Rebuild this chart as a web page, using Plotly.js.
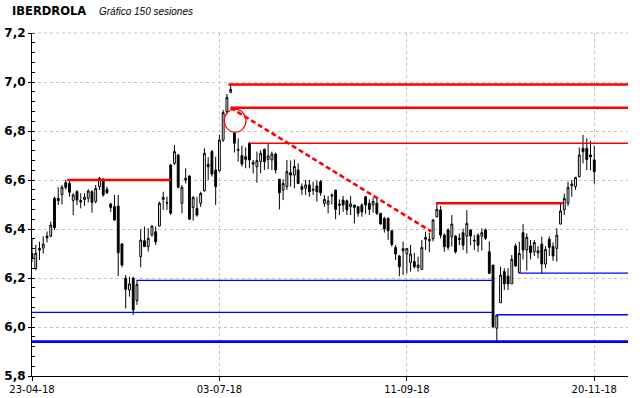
<!DOCTYPE html>
<html>
<head>
<meta charset="utf-8">
<script src="https://cdn.plot.ly/plotly-3.0.1.min.js"></script>
<style>
html,body{margin:0;padding:0;background:#fff;}
#chart{width:640px;height:398px;}
</style>
</head>
<body>
<div id="chart"></div>
<script>
// ---- data: 151 daily sessions (IBERDROLA) ----
const openP = [
6.30,6.239,6.321,6.322,6.371,6.371,6.525,6.525,6.541,6.589,
6.586,6.516,6.552,6.516,6.52,6.525,6.552,6.512,6.573,6.603,
6.562,6.502,6.491,6.494,6.339,6.199,6.151,6.199,6.108,6.287,
6.352,6.328,6.376,6.389,6.412,6.521,6.508,6.661,6.668,6.702,
6.505,6.60,6.616,6.488,6.484,6.505,6.556,6.664,6.716,6.641,
6.638,6.763,6.879,6.958,6.793,6.725,6.70,6.695,6.75,6.665,
6.654,6.675,6.725,6.684,6.682,6.706,6.603,6.559,6.573,6.63,
6.62,6.641,6.573,6.566,6.58,6.562,6.576,6.593,6.505,6.501,
6.539,6.559,6.502,6.518,6.515,6.491,6.498,6.491,6.498,6.532,
6.505,6.498,6.505,6.464,6.443,6.443,6.393,6.325,6.29,6.311,
6.298,6.263,6.267,6.243,6.235,6.358,6.352,6.36,6.45,6.478,
6.375,6.396,6.368,6.371,6.362,6.385,6.371,6.396,6.354,6.375,
6.371,6.396,6.307,6.253,5.995,6.099,6.226,6.208,6.176,6.331,
6.222,6.385,6.314,6.331,6.307,6.303,6.339,6.257,6.358,6.328,
6.321,6.42,6.478,6.505,6.576,6.573,6.614,6.729,6.729,6.702,
6.682];
const highP = [
6.36,6.335,6.348,6.37,6.39,6.43,6.532,6.57,6.58,6.60,
6.60,6.546,6.559,6.546,6.546,6.562,6.559,6.58,6.613,6.607,
6.573,6.507,6.539,6.539,6.342,6.212,6.205,6.205,6.192,6.399,
6.41,6.403,6.415,6.41,6.512,6.552,6.532,6.665,6.743,6.705,
6.58,6.648,6.62,6.535,6.532,6.552,6.729,6.693,6.722,6.695,
6.784,6.886,6.951,6.99,6.793,6.77,6.74,6.733,6.756,6.682,
6.716,6.722,6.729,6.747,6.716,6.712,6.603,6.603,6.682,6.68,
6.684,6.668,6.586,6.60,6.60,6.593,6.598,6.60,6.539,6.535,
6.546,6.559,6.521,6.535,6.521,6.535,6.498,6.494,6.505,6.535,
6.521,6.529,6.525,6.466,6.45,6.448,6.393,6.335,6.294,6.348,
6.321,6.335,6.303,6.287,6.355,6.389,6.385,6.44,6.51,6.494,
6.382,6.402,6.457,6.375,6.382,6.402,6.477,6.399,6.375,6.382,
6.402,6.402,6.35,6.253,6.049,6.246,6.24,6.24,6.294,6.341,
6.348,6.42,6.382,6.355,6.355,6.33,6.369,6.33,6.37,6.345,
6.403,6.505,6.545,6.593,6.60,6.611,6.733,6.784,6.77,6.76,
6.74];
const lowP = [
6.265,6.232,6.274,6.30,6.345,6.366,6.396,6.498,6.50,6.562,
6.532,6.457,6.498,6.484,6.494,6.508,6.467,6.505,6.559,6.532,
6.543,6.47,6.434,6.208,6.244,6.076,6.124,6.049,6.09,6.244,
6.328,6.308,6.369,6.335,6.41,6.478,6.478,6.457,6.661,6.566,
6.464,6.586,6.437,6.434,6.45,6.49,6.552,6.60,6.614,6.498,
6.634,6.756,6.872,6.954,6.712,6.675,6.655,6.648,6.648,6.627,
6.589,6.627,6.641,6.644,6.641,6.627,6.48,6.518,6.559,6.573,
6.566,6.584,6.539,6.539,6.532,6.539,6.512,6.535,6.491,6.464,
6.50,6.44,6.457,6.47,6.457,6.457,6.423,6.45,6.45,6.461,
6.457,6.467,6.457,6.42,6.385,6.355,6.328,6.273,6.207,6.212,
6.219,6.226,6.239,6.226,6.233,6.314,6.305,6.35,6.447,6.362,
6.307,6.314,6.328,6.30,6.334,6.314,6.30,6.334,6.314,6.307,
6.312,6.355,6.216,5.995,5.94,6.099,6.151,6.151,6.176,6.246,
6.219,6.276,6.23,6.276,6.29,6.28,6.219,6.24,6.29,6.27,
6.267,6.42,6.457,6.494,6.532,6.56,6.61,6.668,6.64,6.64,
6.586];
const closeP = [
6.28,6.301,6.314,6.338,6.364,6.416,6.405,6.516,6.57,6.57,
6.55,6.539,6.518,6.51,6.53,6.555,6.508,6.566,6.607,6.539,
6.548,6.488,6.437,6.303,6.253,6.154,6.176,6.07,6.174,6.355,
6.328,6.362,6.412,6.348,6.505,6.529,6.506,6.465,6.716,6.570,
6.570,6.607,6.44,6.528,6.457,6.545,6.709,6.654,6.624,6.573,
6.763,6.875,6.937,6.970,6.75,6.722,6.665,6.684,6.682,6.672,
6.679,6.709,6.675,6.698,6.706,6.641,6.548,6.586,6.634,6.62,
6.655,6.586,6.562,6.58,6.552,6.559,6.552,6.548,6.521,6.515,
6.535,6.48,6.497,6.498,6.478,6.502,6.488,6.464,6.47,6.498,
6.48,6.512,6.464,6.42,6.40,6.393,6.337,6.298,6.246,6.32,
6.321,6.298,6.246,6.253,6.325,6.366,6.357,6.437,6.48,6.375,
6.328,6.325,6.42,6.307,6.358,6.334,6.423,6.371,6.352,6.334,
6.385,6.362,6.219,6.001,6.049,6.212,6.176,6.176,6.276,6.249,
6.30,6.314,6.366,6.303,6.345,6.311,6.257,6.317,6.325,6.29,
6.375,6.474,6.525,6.57,6.584,6.611,6.702,6.716,6.684,6.695,
6.634];

// x-axis date labels and the session they belong to
const tickDates = ['23-04-18','03-07-18','11-09-18','20-11-18'];
const tickSessions = [0, 50, 100, 150];

// resistance levels (red) : level, first session, last session
const redLevels = [6.60, 6.99, 6.895, 6.75, 6.505];
const redFrom   = [9.4, 52.4, 53, 58, 107.8];
const redTo     = [37, 160, 160, 160, 141.6];
// support levels (blue)
const blueLevels = [6.19, 6.06, 6.22, 6.05, 5.94];
const blueFrom   = [28, -1, 130, 124, -1];
const blueTo     = [123, 123, 160, 160, 160];
// falling trend line (session, price)
const trendSessions = [53, 106.5];
const trendPrices   = [6.895, 6.39];
// circled point (session range, price range)
const circleSessions = [51.3, 57.1];
const circlePrices   = [6.795, 6.889];

// ---- styles ----
const redWidths  = [2.6, 2.6, 2.6, 1.3, 2.6];
const blueWidths = [1.3, 1.3, 1.3, 1.3, 2.8];
const gridColor = '#c4c4c4';

const session = openP.map((_, i) => i);

const traces = [{
  type: 'candlestick',
  x: session, open: openP, high: highP, low: lowP, close: closeP,
  increasing: {line: {color: '#000000', width: 1}, fillcolor: '#ffffff'},
  decreasing: {line: {color: '#000000', width: 1}, fillcolor: '#000000'},
  whiskerwidth: 0,
  hoverinfo: 'skip',
  showlegend: false
}];

redLevels.forEach((lv, k) => traces.push({
  type: 'scatter', mode: 'lines', x: [redFrom[k], redTo[k]], y: [lv, lv],
  line: {color: '#ff0000', width: redWidths[k]}, hoverinfo: 'skip', showlegend: false
}));
blueLevels.forEach((lv, k) => traces.push({
  type: 'scatter', mode: 'lines', x: [blueFrom[k], blueTo[k]], y: [lv, lv],
  line: {color: '#0000ff', width: blueWidths[k]}, hoverinfo: 'skip', showlegend: false
}));
traces.push({
  type: 'scatter', mode: 'lines', x: trendSessions, y: trendPrices,
  line: {color: '#ff0000', width: 2.6, dash: '5px,3px'}, hoverinfo: 'skip', showlegend: false
});

const layout = {
  width: 640, height: 398,
  margin: {l: 32, r: 12, t: 33, b: 22, pad: 0},
  paper_bgcolor: '#ffffff', plot_bgcolor: '#ffffff',
  separators: ',.',
  showlegend: false,
  xaxis: {
    range: [0, 159],
    rangeslider: {visible: false},
    tickmode: 'array', tickvals: tickSessions, ticktext: tickDates,
    ticks: 'outside', ticklen: 4, tickcolor: '#000', tickwidth: 1,
    tickfont: {family: 'DejaVu Sans', size: 10, color: '#000'},
    showline: true, linecolor: '#000', linewidth: 1,
    showgrid: true, gridcolor: gridColor, griddash: 'dot', gridwidth: 1,
    zeroline: false, fixedrange: true
  },
  yaxis: {
    range: [5.8, 7.2],
    tick0: 5.8, dtick: 0.2, tickformat: '.1f',
    ticks: 'outside', ticklen: 3, tickcolor: '#000', tickwidth: 1,
    minor: {dtick: 0.04, ticks: 'inside', ticklen: 3, tickcolor: '#000', showgrid: false},
    tickfont: {family: 'DejaVu Sans', size: 12, color: '#000', weight: 'bold'},
    showline: true, linecolor: '#000', linewidth: 1,
    showgrid: true, gridcolor: gridColor, griddash: 'dot', gridwidth: 1,
    zeroline: false, fixedrange: true
  },
  yaxis2: {
    overlaying: 'y', side: 'left', range: [5.8, 7.2], tick0: 5.8, dtick: 0.2,
    ticks: 'inside', ticklen: 3, tickcolor: '#000', showticklabels: false,
    showgrid: false, showline: false, zeroline: false, fixedrange: true
  },
  shapes: [
    {type: 'line', xref: 'paper', yref: 'paper', x0: 0, x1: 1, y0: 1, y1: 1,
     line: {color: gridColor, width: 1, dash: 'dot'}, layer: 'above'},
    {type: 'circle', xref: 'x', yref: 'y',
     x0: circleSessions[0], x1: circleSessions[1], y0: circlePrices[0], y1: circlePrices[1],
     line: {color: '#ff0000', width: 1.2}}
  ],
  annotations: [
    {xref: 'paper', yref: 'paper', x: -0.037, y: 1.064, xanchor: 'left', yanchor: 'middle',
     text: '<b>IBERDROLA</b>', showarrow: false,
     font: {family: 'DejaVu Sans', size: 11.5, color: '#000'}},
    {xref: 'paper', yref: 'paper', x: 0.109, y: 1.064, xanchor: 'left', yanchor: 'middle',
     text: '<i>Gráfico 150 sesiones</i>', showarrow: false,
     font: {family: 'Liberation Sans', size: 10, color: '#000'}}
  ]
};

Plotly.newPlot('chart', traces, layout, {staticPlot: true, displayModeBar: false});
</script>
</body>
</html>
